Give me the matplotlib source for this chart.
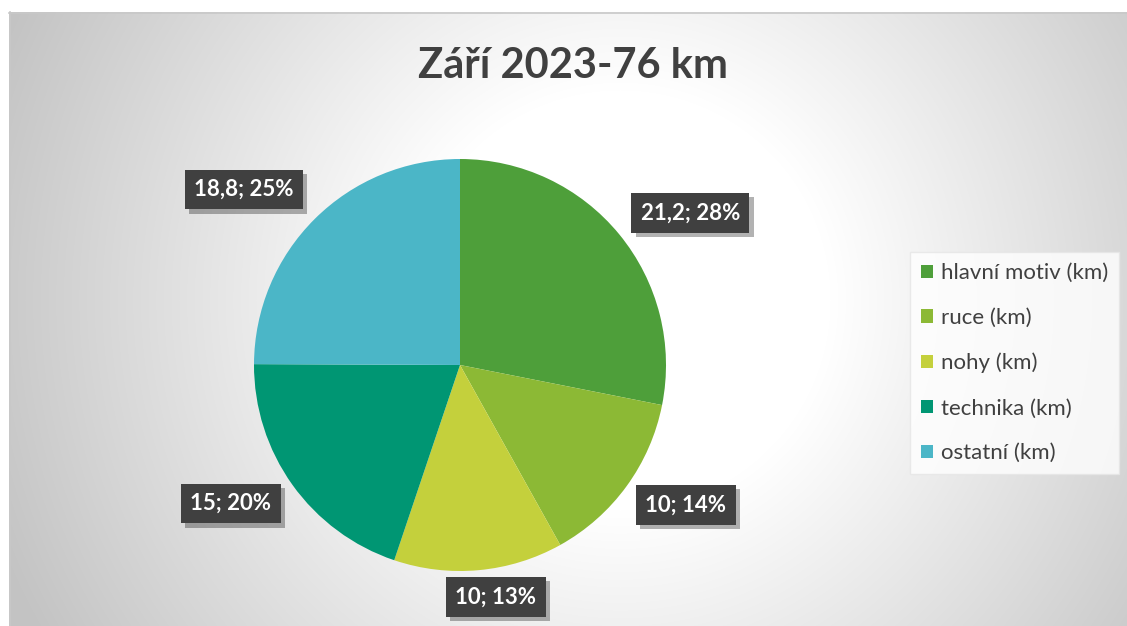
import numpy as np
import matplotlib
matplotlib.use("Agg")
import matplotlib.pyplot as plt
import matplotlib.patheffects as pe

# ---- data ----
title = "Září 2023-76 km"
categories = ["hlavní motiv (km)", "ruce (km)", "nohy (km)", "technika (km)", "ostatní (km)"]
values = [21.2, 10.4, 10.0, 15.0, 18.8]
value_text = ["21,2", "10", "10", "15", "18,8"]
percent_text = ["28%", "14%", "13%", "20%", "25%"]
colors = ["#4E9F3A", "#8CB935", "#C4D03C", "#009673", "#4BB6C7"]

W, H = 1127, 626
plt.rcParams['font.family'] = ['Lato', 'DejaVu Sans']
fig = plt.figure(figsize=(W / 100, H / 100), dpi=100)

# background with radial gradient
bg = fig.add_axes([0, 0, 1, 1])
bg.axis('off')
yy, xx = np.mgrid[12:H, 9:W]
d = np.hypot(xx - 620, yy - 300) / 700.0
v = 255 - 60 * np.clip((d - 0.3) / 0.66, 0, 1)
img = np.dstack([v, v, v]) / 255.0
bg.imshow(img, extent=[9, W, H, 12], aspect='auto', interpolation='bilinear')
bg.plot([9, W], [12.5, 12.5], color="#c8c8c8", lw=1.2)
bg.plot([9.5, 9.5], [12, H], color="#c8c8c8", lw=1.2)
bg.set_xlim(0, W)
bg.set_ylim(H, 0)

# title
fig.text(573 / W, 1 - 66 / H, title, ha='center', va='center',
         fontsize=30, fontweight='bold', color='#404040')

# pie
cx, cy, R = 460, 365, 206
ax = fig.add_axes([(cx - R) / W, (H - cy - R) / H, 2 * R / W, 2 * R / H])
ax.patch.set_alpha(0)
wedges, _ = ax.pie(values, colors=colors, startangle=90, counterclock=False,
                   wedgeprops=dict(linewidth=0))
ax.set_xlim(-1, 1)
ax.set_ylim(-1, 1)
ax.axis('off')

dist = [1.34, 1.29, 1.14, 1.30, 1.35]
nudge = [-6, 4.3, 3.5, -4.4, 6]
for w, vt, pt, dd, nd in zip(wedges, value_text, percent_text, dist, nudge):
    ang = np.deg2rad((w.theta1 + w.theta2) / 2 + nd)
    t = ax.text(dd * np.cos(ang), dd * np.sin(ang), f"{vt}; {pt}",
                ha='center', va='center', fontsize=16, fontweight='bold',
                color='white', zorder=5,
                bbox=dict(boxstyle='square,pad=0.42', facecolor='#404040',
                          edgecolor='none'))
    t.get_bbox_patch().set_path_effects([
        pe.SimplePatchShadow(offset=(3, -3), shadow_rgbFace='#000000', alpha=0.3),
        pe.Normal()])

# legend
leg = fig.legend(wedges, categories, loc='upper left',
                 bbox_to_anchor=(910 / W, 1 - 252 / H),
                 frameon=True, fancybox=False, borderaxespad=0,
                 handlelength=0.55, handleheight=0.55, handletextpad=0.35,
                 labelspacing=1.12, borderpad=0.5, fontsize=16)
leg.get_frame().set_facecolor((1, 1, 1, 0.25))
leg.get_frame().set_edgecolor('#e6e6e6')
for txt in leg.get_texts():
    txt.set_color('#404040')

fig.savefig("out.png", dpi=100)
